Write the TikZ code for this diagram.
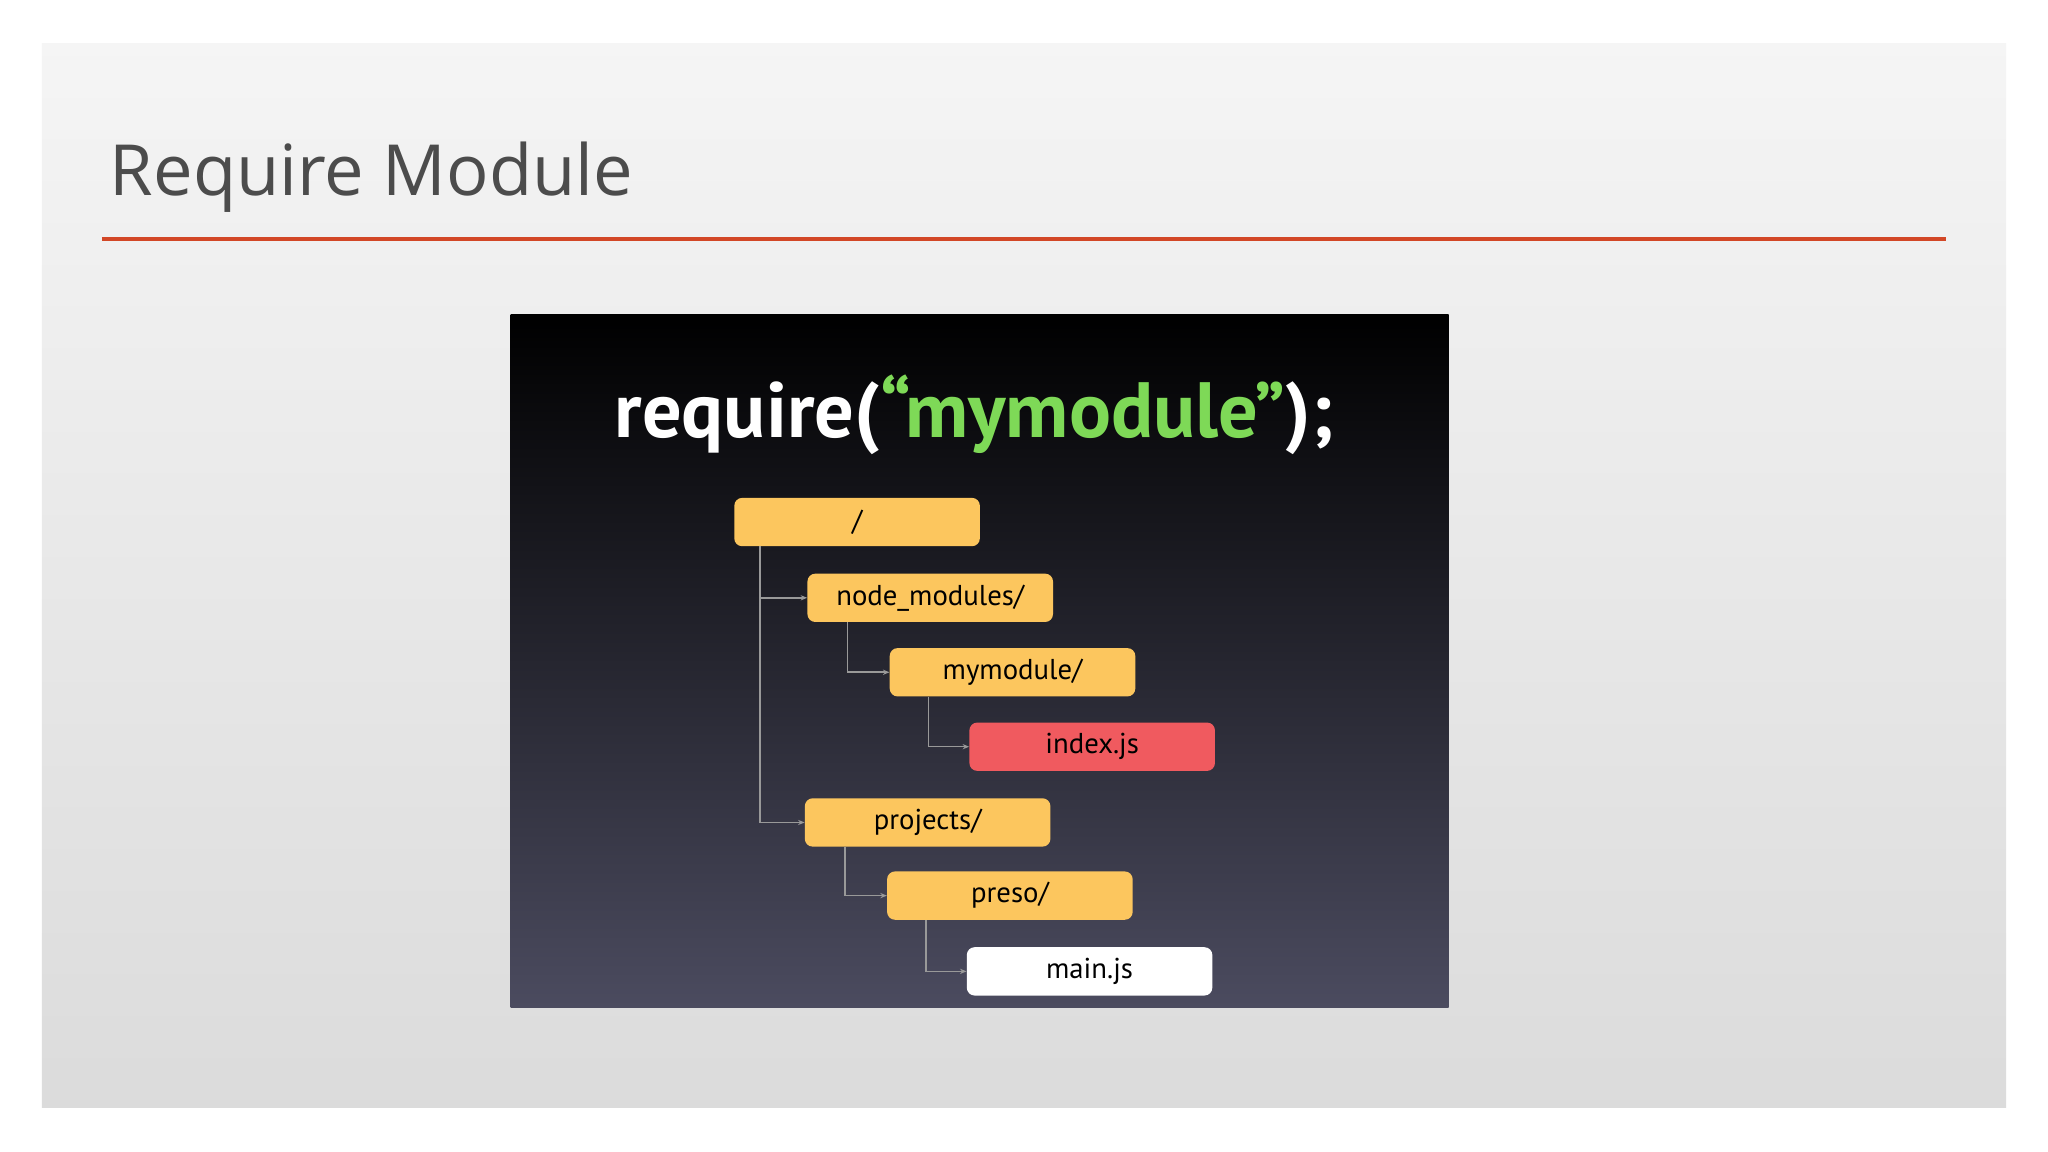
\documentclass[tikz,border=0pt]{standalone}
\usepackage{fontspec}
\setmainfont{Open Sans}
\newfontfamily\boxfont{PT Sans}
\usetikzlibrary{arrows.meta}
\definecolor{folder}{HTML}{FCC65E}
\definecolor{redbox}{HTML}{F05A5F}
\definecolor{codegreen}{HTML}{7ED957}
\definecolor{accent}{HTML}{D24726}
\tikzset{
  fbox/.style={rectangle, rounded corners=6pt, minimum width=188pt, minimum height=37pt, inner sep=0pt, font=\boxfont\fontsize{22}{24}\selectfont, text=black},
  conn/.style={draw=gray!80, line width=1.2pt, -{Stealth[length=5pt,width=4pt]}}
}
\begin{document}
\begin{tikzpicture}[x=1pt,y=-1pt]
\useasboundingbox (0,0) rectangle (1568,882);
\fill[white] (0,0) rectangle (1568,882);
\shade[top color=black!4, bottom color=black!14] (32,33) rectangle (1536,848);
\node[anchor=base west, inner sep=0pt, text=black!70, font=\fontsize{54}{56}\selectfont] (title) at (84,150) {Require Module};
\draw[accent, line width=3pt] (78,183) -- (1490,183);
\shade[top color=black, bottom color={rgb,255:red,75;green,75;blue,95}] (391,241) rectangle (1109,771);
\node[anchor=base, inner sep=0pt, font=\boxfont\bfseries\fontsize{60}{64}\selectfont] (code) at (746,335) {\textcolor{white}{require(}\textcolor{codegreen}{“mymodule”}\textcolor{white}{);}};
\node[fbox, fill=folder, anchor=north west] (root) at (562,381) {/};
\node[fbox, fill=folder, anchor=north west] (nm) at (618,439) {node\_modules/};
\node[fbox, fill=folder, anchor=north west] (mm) at (681,496) {mymodule/};
\node[fbox, fill=redbox, anchor=north west] (idx) at (742,553) {index.js};
\node[fbox, fill=folder, anchor=north west] (proj) at (616,611) {projects/};
\node[fbox, fill=folder, anchor=north west] (preso) at (679,667) {preso/};
\node[fbox, fill=white, anchor=north west] (main) at (740,725) {main.js};
\draw[conn] ([xshift=20pt]root.south west) |- (nm.west);
\draw[conn] ([xshift=20pt]root.south west) |- (proj.west);
\draw[conn] ([xshift=31pt]nm.south west) |- (mm.west);
\draw[conn] ([xshift=30pt]mm.south west) |- (idx.west);
\draw[conn] ([xshift=31pt]proj.south west) |- (preso.west);
\draw[conn] ([xshift=30pt]preso.south west) |- (main.west);
\end{tikzpicture}
\end{document}
